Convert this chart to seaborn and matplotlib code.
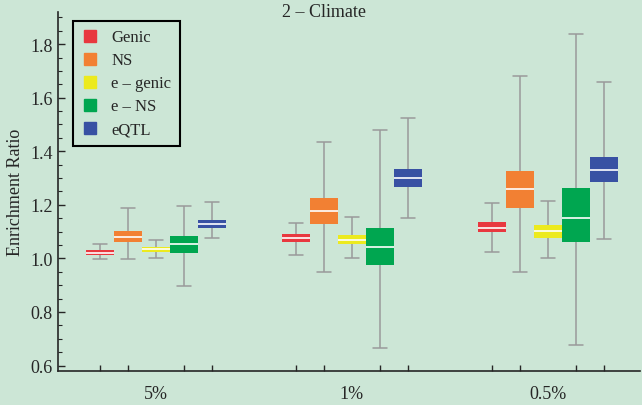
import numpy as np
import pandas as pd
import seaborn as sns
import matplotlib.pyplot as plt
from matplotlib.lines import Line2D
from matplotlib.ticker import MultipleLocator

############# Chart data ######
########################################################
categories = ['5%', '1%', '0.5%']
series = ['Genic', 'NS', 'e \u2013 genic', 'e \u2013 NS', 'eQTL']
colors = ['#e8383f', '#f28033', '#ecea1e', '#00a650', '#3851a3']

# each box: [whisker low, q1, median, q3, whisker high], one per category
genic = [[0.996, 1.014, 1.022, 1.033, 1.052],
         [1.014, 1.061, 1.076, 1.090, 1.133],
         [1.023, 1.098, 1.115, 1.135, 1.205]]
ns = [[0.999, 1.061, 1.079, 1.102, 1.190],
      [0.950, 1.130, 1.176, 1.226, 1.434],
      [0.948, 1.188, 1.260, 1.328, 1.681]]
e_genic = [[1.002, 1.023, 1.034, 1.044, 1.070],
           [1.003, 1.053, 1.070, 1.088, 1.153],
           [1.003, 1.078, 1.102, 1.123, 1.214]]
e_ns = [[0.898, 1.022, 1.055, 1.084, 1.197],
        [0.664, 0.975, 1.043, 1.113, 1.481],
        [0.677, 1.061, 1.150, 1.262, 1.839]]
eqtl = [[1.076, 1.115, 1.130, 1.145, 1.210],
        [1.150, 1.265, 1.301, 1.335, 1.526],
        [1.074, 1.285, 1.331, 1.379, 1.657]]
all_boxes = [genic, ns, e_genic, e_ns, eqtl]

# Long table: 5 points per box reproduce min/q1/median/q3/max exactly
rows = []
for name, boxes in zip(series, all_boxes):
    for cat, stats in zip(categories, boxes):
        for v in stats:
            rows.append({'threshold': cat, 'set': name, 'ratio': v})
df = pd.DataFrame(rows)

############# Style ####################################
########################################################
bg = '#cce6d6'
sns.set_style('ticks')
plt.rcParams['font.family'] = ['Liberation Serif', 'DejaVu Serif']

fig = plt.figure(figsize=(6.42, 4.06), dpi=100, facecolor=bg)
ax = fig.add_axes([0.0905, 0.084, 0.906, 0.884])
ax.set_facecolor(bg)

box_width = 0.714
sns.boxplot(data=df, x='threshold', y='ratio', hue='set', order=categories,
            hue_order=series, palette=colors, width=box_width, gap=0,
            whis=(0, 100), saturation=1, legend=False, ax=ax,
            boxprops=dict(linewidth=0),
            whiskerprops=dict(color='#9a9a9a', linewidth=1.1),
            capprops=dict(color='#9a9a9a', linewidth=1.1),
            medianprops=dict(color='white', linewidth=1.2))

ax.set_xlim(-0.5, 2.47)
ax.set_xlabel('')
ax.set_ylabel('Enrichment Ratio', fontsize=13, labelpad=4)

# y ticks: major every 0.2, minor every 0.05, pointing inward
yticks = [0.6, 0.8, 1.0, 1.2, 1.4, 1.6, 1.8]
ax.set_yticks(yticks)
ax.set_yticklabels([f'{t:.1f}' for t in yticks])
ax.yaxis.set_minor_locator(MultipleLocator(0.05))
ax.set_ylim(0.58, 1.92)
ax.tick_params(axis='y', which='major', direction='in', length=5, width=1,
               labelsize=13, pad=4)
ax.tick_params(axis='y', which='minor', direction='in', length=3, width=0.8)

# x: labels at group centres, small inward ticks at each box
step = box_width / len(series)
box_pos = [g + (i - 2) * step for g in range(len(categories)) for i in range(len(series))]
ax.set_xticks(range(len(categories)))
ax.set_xticklabels(categories)
ax.set_xticks(box_pos, minor=True)
ax.tick_params(axis='x', which='major', length=0, labelsize=13, pad=10)
ax.tick_params(axis='x', which='minor', direction='in', length=4, width=1)

for side in ['top', 'right']:
    ax.spines[side].set_visible(False)
ax.spines['left'].set_linewidth(1.2)
ax.spines['bottom'].set_linewidth(1.2)

fig.text(0.505, 0.970, '2 \u2013 Climate', ha='center', va='center', fontsize=13)

# Legend
handles = [Line2D([], [], linestyle='', marker='s', markersize=9,
                  markerfacecolor=c, markeredgecolor=c) for c in colors]
leg = fig.legend(handles, series, loc='upper left',
                 bbox_to_anchor=(73 / 642, 1 - 22 / 406), fontsize=12,
                 frameon=True, fancybox=False, framealpha=1,
                 facecolor=bg, edgecolor='black', handlelength=1.0,
                 handletextpad=0.8, labelspacing=0.42, borderpad=0.5,
                 borderaxespad=0)
leg.get_frame().set_linewidth(1.5)

plt.savefig('out.png', dpi=100, facecolor=bg)
